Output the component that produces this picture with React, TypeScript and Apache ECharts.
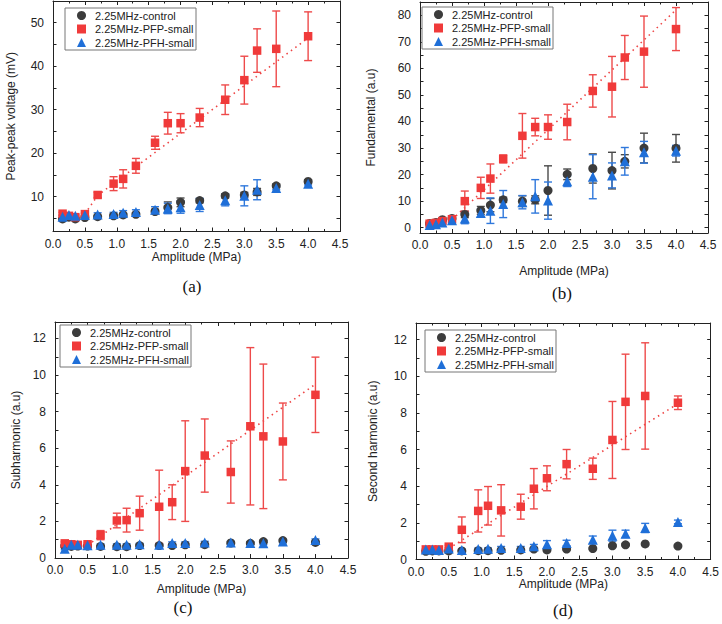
import React, { useEffect, useRef } from "react";
import * as echarts from "echarts";

// ---------- data ----------
const amplitude = [0.15, 0.25, 0.35, 0.5, 0.7, 0.95, 1.1, 1.3, 1.6, 1.8, 2.0, 2.3, 2.7, 3.0, 3.2, 3.5, 4.0];
const seriesNames = ["2.25MHz-control", "2.25MHz-PFP-small", "2.25MHz-PFH-small"];
const xTicks = [0, 0.5, 1, 1.5, 2, 2.5, 3, 3.5, 4, 4.5];

// (a) Peak-peak voltage (mV)
const ppControl = [4.9, 5.3, 4.9, 5.2, 5.4, 5.6, 5.8, 5.95, 6.6, 7.5, 8.7, 9.1, 10.2, 10.4, 11.1, 12.5, 13.5];
const ppControlErr = [0.3, 0.3, 0.3, 0.3, 0.3, 0.4, 0.4, 0.4, 0.5, 1.3, 1.0, 0.5, 0.5, 0.6, 0.8, 0.4, 0.4];
const ppPFP = [6.1, 5.6, 5.3, 6.0, 10.4, 13.0, 14.1, 17.1, 22.4, 26.9, 26.9, 28.2, 32.3, 36.8, 43.6, 44.0, 46.9];
const ppPFPErr = [0.3, 0.3, 0.3, 0.3, 0.6, 1.6, 2.1, 1.7, 1.5, 2.5, 2.2, 2.1, 3.4, 5.5, 5.0, 8.7, 5.6];
const ppPFH = [5.4, 5.8, 5.6, 5.8, 5.9, 6.0, 6.3, 6.5, 7.0, 7.3, 7.6, 8.1, 9.2, 10.2, 11.6, 12.0, 13.0];
const ppPFHErr = [0.3, 0.3, 0.3, 0.3, 0.4, 0.4, 0.5, 0.5, 0.7, 1.2, 1.4, 1.5, 1.3, 2.3, 2.3, 0.4, 0.3];
const ppFitX = [0.5, 0.7, 4.0];
const ppFitY = [6.0, 10.3, 46.5];
const ppLabels = [10, 20, 30, 40, 50];
const ppTicks = [5, 10, 15, 20, 25, 30, 35, 40, 45, 50];

// (b) Fundamental (a.u)
const fuControl = [1.6, 2.0, 3.0, 3.5, 5.0, 6.5, 8.5, 10.5, 10.0, 10.5, 14.0, 20.1, 22.3, 21.5, 25.0, 30.0, 29.9];
const fuControlErr = [0.4, 0.5, 0.6, 0.6, 1.2, 1.5, 2.5, 1.0, 2.0, 1.5, 9.3, 2.0, 5.5, 6.9, 2.5, 5.6, 5.2];
const fuPFP = [1.5, 1.8, 2.5, 3.2, 10.0, 15.0, 18.5, 25.9, 34.6, 37.9, 37.9, 39.8, 51.5, 53.1, 64.1, 66.3, 74.8];
const fuPFPErr = [0.4, 0.5, 0.6, 0.6, 3.8, 4.0, 5.5, 1.5, 8.4, 3.3, 4.6, 6.7, 6.1, 11.4, 8.3, 13.4, 8.1];
const fuPFH = [1.0, 1.3, 2.0, 2.8, 3.5, 5.5, 6.4, 8.9, 9.6, 11.8, 10.2, 17.5, 19.2, 19.7, 25.0, 28.4, 29.0];
const fuPFHErr = [0.4, 0.5, 0.6, 0.8, 2.0, 1.5, 4.8, 5.1, 2.5, 6.3, 7.0, 2.0, 8.3, 4.7, 5.2, 4.1, 2.0];
const fuFitX = [0.5, 4.0];
const fuFitY = [3.0, 82.0];
const fuLabels = [0, 10, 20, 30, 40, 50, 60, 70, 80];
const fuTicks = [0, 5, 10, 15, 20, 25, 30, 35, 40, 45, 50, 55, 60, 65, 70, 75, 80];

// (c) Subharmonic (a.u)
const shControl = [0.65, 0.63, 0.65, 0.65, 0.63, 0.62, 0.62, 0.68, 0.68, 0.68, 0.72, 0.73, 0.82, 0.8, 0.9, 0.95, 0.85];
const shControlErr = [0.05, 0.05, 0.05, 0.05, 0.05, 0.05, 0.05, 0.05, 0.05, 0.05, 0.05, 0.05, 0.06, 0.06, 0.06, 0.06, 0.06];
const shPFP = [0.8, 0.75, 0.72, 0.75, 1.25, 2.05, 2.07, 2.45, 2.8, 3.05, 4.75, 5.6, 4.7, 7.2, 6.65, 6.37, 8.92];
const shPFPErr = [0.08, 0.08, 0.08, 0.1, 0.25, 0.4, 0.65, 0.93, 2.0, 0.95, 2.75, 2.0, 1.7, 4.3, 3.95, 2.1, 2.06];
const shPFH = [0.5, 0.72, 0.72, 0.7, 0.72, 0.72, 0.72, 0.75, 0.72, 0.82, 0.82, 0.85, 0.85, 0.82, 0.8, 0.9, 0.98];
const shPFHErr = [0.05, 0.05, 0.05, 0.05, 0.05, 0.05, 0.05, 0.05, 0.05, 0.06, 0.06, 0.06, 0.06, 0.06, 0.06, 0.06, 0.06];
const shFitX = [0.5, 4.0];
const shFitY = [0.7, 9.5];
const shLabels = [0, 2, 4, 6, 8, 10, 12];
const shTicks = [0, 1, 2, 3, 4, 5, 6, 7, 8, 9, 10, 11, 12];

// (d) Second harmonic (a.u)
const h2Control = [0.45, 0.47, 0.47, 0.47, 0.47, 0.48, 0.48, 0.5, 0.52, 0.57, 0.52, 0.57, 0.6, 0.75, 0.8, 0.85, 0.73];
const h2ControlErr = [0.03, 0.03, 0.03, 0.03, 0.03, 0.03, 0.03, 0.03, 0.03, 0.04, 0.04, 0.04, 0.04, 0.05, 0.05, 0.05, 0.05];
const h2PFP = [0.55, 0.55, 0.55, 0.7, 1.62, 2.65, 2.93, 2.68, 2.88, 3.86, 4.43, 5.2, 4.95, 6.52, 8.6, 8.92, 8.55];
const h2PFPErr = [0.05, 0.05, 0.05, 0.08, 0.7, 1.15, 1.05, 1.4, 0.68, 1.1, 0.68, 0.8, 0.58, 2.1, 2.6, 2.9, 0.37];
const h2PFH = [0.55, 0.55, 0.52, 0.6, 0.52, 0.57, 0.58, 0.63, 0.63, 0.72, 0.83, 0.9, 1.08, 1.3, 1.4, 1.72, 2.05];
const h2PFHErr = [0.04, 0.04, 0.04, 0.05, 0.05, 0.05, 0.05, 0.08, 0.08, 0.1, 0.2, 0.15, 0.2, 0.3, 0.2, 0.25, 0.1];
const h2FitX = [0.5, 4.0];
const h2FitY = [0.6, 8.5];
const h2Labels = [0, 2, 4, 6, 8, 10, 12];
const h2Ticks = [0, 1, 2, 3, 4, 5, 6, 7, 8, 9, 10, 11, 12];

// ---------- styling / layout ----------
const COLORS = ["#3c3c3c", "#f03a3a", "#1f6fd8"];
const ERR_COLORS = ["#4a4a4a", "#ee4a4a", "#2f78dc"];
const SYMBOLS = ["circle", "rect", "triangle"];
const SYMBOL_SIZES = [9, 8.5, 10];
const FONT = "'Liberation Sans', Arial, sans-serif";
const AXIS_COLOR = "#222";

const panels = [
  {
    grid: { left: 53, top: 1, width: 287, height: 230.5 },
    yName: "Peak-peak voltage (mV)", yMin: 2, yMax: 55, yLabels: ppLabels, yTicks: ppTicks,
    xNameGap: 19, yNameGap: 36,
    vals: [ppControl, ppPFP, ppPFH], errs: [ppControlErr, ppPFPErr, ppPFHErr],
    fitX: ppFitX, fitY: ppFitY,
    legend: { left: 65, top: 8 },
    tag: "(a)", tagPos: [192, 286],
  },
  {
    grid: { left: 420, top: 2, width: 288, height: 231 },
    yName: "Fundamental (a.u)", yMin: -2, yMax: 85, yLabels: fuLabels, yTicks: fuTicks,
    xNameGap: 32, yNameGap: 43,
    vals: [fuControl, fuPFP, fuPFH], errs: [fuControlErr, fuPFPErr, fuPFHErr],
    fitX: fuFitX, fitY: fuFitY,
    legend: { left: 422, top: 7 },
    tag: "(b)", tagPos: [562, 293],
  },
  {
    grid: { left: 55, top: 322, width: 293, height: 236 },
    yName: "Subharmonic (a.u)", yMin: 0, yMax: 12.9, yLabels: shLabels, yTicks: shTicks,
    xNameGap: 25, yNameGap: 33,
    vals: [shControl, shPFP, shPFH], errs: [shControlErr, shPFPErr, shPFHErr],
    fitX: shFitX, fitY: shFitY,
    legend: { left: 60, top: 325 },
    tag: "(c)", tagPos: [183, 607],
  },
  {
    grid: { left: 416, top: 323, width: 297, height: 236.5 },
    yName: "Second harmonic (a.u)", yMin: 0, yMax: 12.9, yLabels: h2Labels, yTicks: h2Ticks,
    xNameGap: 18, yNameGap: 37,
    vals: [h2Control, h2PFP, h2PFH], errs: [h2ControlErr, h2PFPErr, h2PFHErr],
    fitX: h2FitX, fitY: h2FitY,
    legend: { left: 425, top: 330 },
    tag: "(d)", tagPos: [563, 610],
  },
];

function buildOption() {
  const grid: any[] = [];
  const xAxis: any[] = [];
  const yAxis: any[] = [];
  const series: any[] = [];
  const legend: any[] = [];
  const graphic: any[] = [];

  const axisLine = { show: true, onZero: false, lineStyle: { color: AXIS_COLOR, width: 1 } };
  const tickStyle = { color: AXIS_COLOR, width: 1 };

  panels.forEach((p, i) => {
    grid.push({ ...p.grid, containLabel: false });

    const xBase = {
      type: "value", gridIndex: i, min: 0, max: 4.5, interval: 0.5,
      splitLine: { show: false }, axisLine,
      axisTick: { show: true, inside: true, length: 4, lineStyle: tickStyle },
      minorTick: { show: true, splitNumber: 2, length: 2.5, lineStyle: tickStyle },
      minorSplitLine: { show: false },
    };
    xAxis.push({
      ...xBase, position: "bottom",
      name: "Amplitude (MPa)", nameLocation: "middle", nameGap: p.xNameGap,
      nameTextStyle: { fontSize: 12, color: "#222", fontFamily: FONT },
      axisLabel: {
        show: true, margin: 6, fontSize: 12, color: "#222", fontFamily: FONT,
        customValues: xTicks, formatter: (v: number) => v.toFixed(1),
      },
    });
    xAxis.push({ ...xBase, position: "top", axisLabel: { show: false } });

    const yBase = {
      type: "value", gridIndex: i, min: p.yMin, max: p.yMax,
      splitLine: { show: false }, axisLine,
      axisTick: { show: true, inside: true, length: 3.5, lineStyle: tickStyle, customValues: p.yTicks },
    };
    yAxis.push({
      ...yBase, position: "left",
      name: p.yName, nameLocation: "middle", nameGap: p.yNameGap, nameRotate: 90,
      nameTextStyle: { fontSize: 12, color: "#222", fontFamily: FONT },
      axisLabel: { show: true, margin: 9, fontSize: 12, color: "#222", fontFamily: FONT, customValues: p.yLabels },
    });
    yAxis.push({ ...yBase, position: "right", axisLabel: { show: false } });

    // fit line
    series.push({
      type: "line", xAxisIndex: i * 2, yAxisIndex: i * 2,
      data: p.fitX.map((x, k) => [x, p.fitY[k]]),
      showSymbol: false, symbol: "none", silent: true,
      lineStyle: { color: "#ee4444", width: 1.6, type: [1.5, 4] },
      z: 1,
    });

    // error bars then markers
    for (let s = 0; s < 3; s++) {
      const v = p.vals[s];
      const e = p.errs[s];
      const col = ERR_COLORS[s];
      series.push({
        type: "custom", xAxisIndex: i * 2, yAxisIndex: i * 2,
        data: amplitude.map((x, k) => [x, v[k] - e[k], v[k] + e[k]]),
        encode: { x: 0, y: [1, 2] },
        silent: true, z: 2,
        renderItem: (params: any, api: any) => {
          const x = api.value(0);
          const lo = api.coord([x, api.value(1)]);
          const hi = api.coord([x, api.value(2)]);
          const w = 4;
          const st = { stroke: col, lineWidth: 1.4 };
          return {
            type: "group",
            children: [
              { type: "line", shape: { x1: hi[0], y1: hi[1], x2: lo[0], y2: lo[1] }, style: st },
              { type: "line", shape: { x1: hi[0] - w, y1: hi[1], x2: hi[0] + w, y2: hi[1] }, style: st },
              { type: "line", shape: { x1: lo[0] - w, y1: lo[1], x2: lo[0] + w, y2: lo[1] }, style: st },
            ],
          };
        },
      });
    }
    for (let s = 0; s < 3; s++) {
      const v = p.vals[s];
      series.push({
        type: "scatter", name: seriesNames[s], xAxisIndex: i * 2, yAxisIndex: i * 2,
        data: amplitude.map((x, k) => [x, v[k]]),
        symbol: SYMBOLS[s], symbolSize: SYMBOL_SIZES[s],
        itemStyle: { color: COLORS[s], opacity: 1 },
        z: 3 + s,
      });
    }

    legend.push({
      orient: "vertical", left: p.legend.left, top: p.legend.top,
      data: seriesNames.map((n, s) => ({ name: n, icon: SYMBOLS[s] })),
      itemWidth: 9, itemHeight: 9, itemGap: 0.5,
      padding: [1, 2, 1, 12],
      borderColor: "#777", borderWidth: 1, borderRadius: 0,
      backgroundColor: "#fff",
      textStyle: { fontSize: 11, color: "#222", fontFamily: FONT, lineHeight: 13, padding: [0, 0, 0, 4] },
      selectedMode: false,
    });

    graphic.push({
      type: "text", x: p.tagPos[0], y: p.tagPos[1],
      style: {
        text: p.tag, font: "17px 'Liberation Serif', 'Times New Roman', serif", fill: "#111",
        textAlign: "center", textVerticalAlign: "middle", align: "center", verticalAlign: "middle",
      },
    });
  });

  return {
    animation: false,
    backgroundColor: "#fff",
    textStyle: { fontFamily: FONT },
    grid, xAxis, yAxis, series, legend, graphic,
  };
}

export default function App() {
  const ref = useRef<HTMLDivElement>(null);
  useEffect(() => {
    if (!ref.current) return;
    const chart = echarts.init(ref.current, null, { renderer: "svg" });
    chart.setOption(buildOption() as any);
    return () => chart.dispose();
  }, []);
  return (
    <div
      ref={ref}
      style={{ position: "fixed", left: 0, top: 0, width: 722, height: 624, background: "#fff" }}
    />
  );
}
